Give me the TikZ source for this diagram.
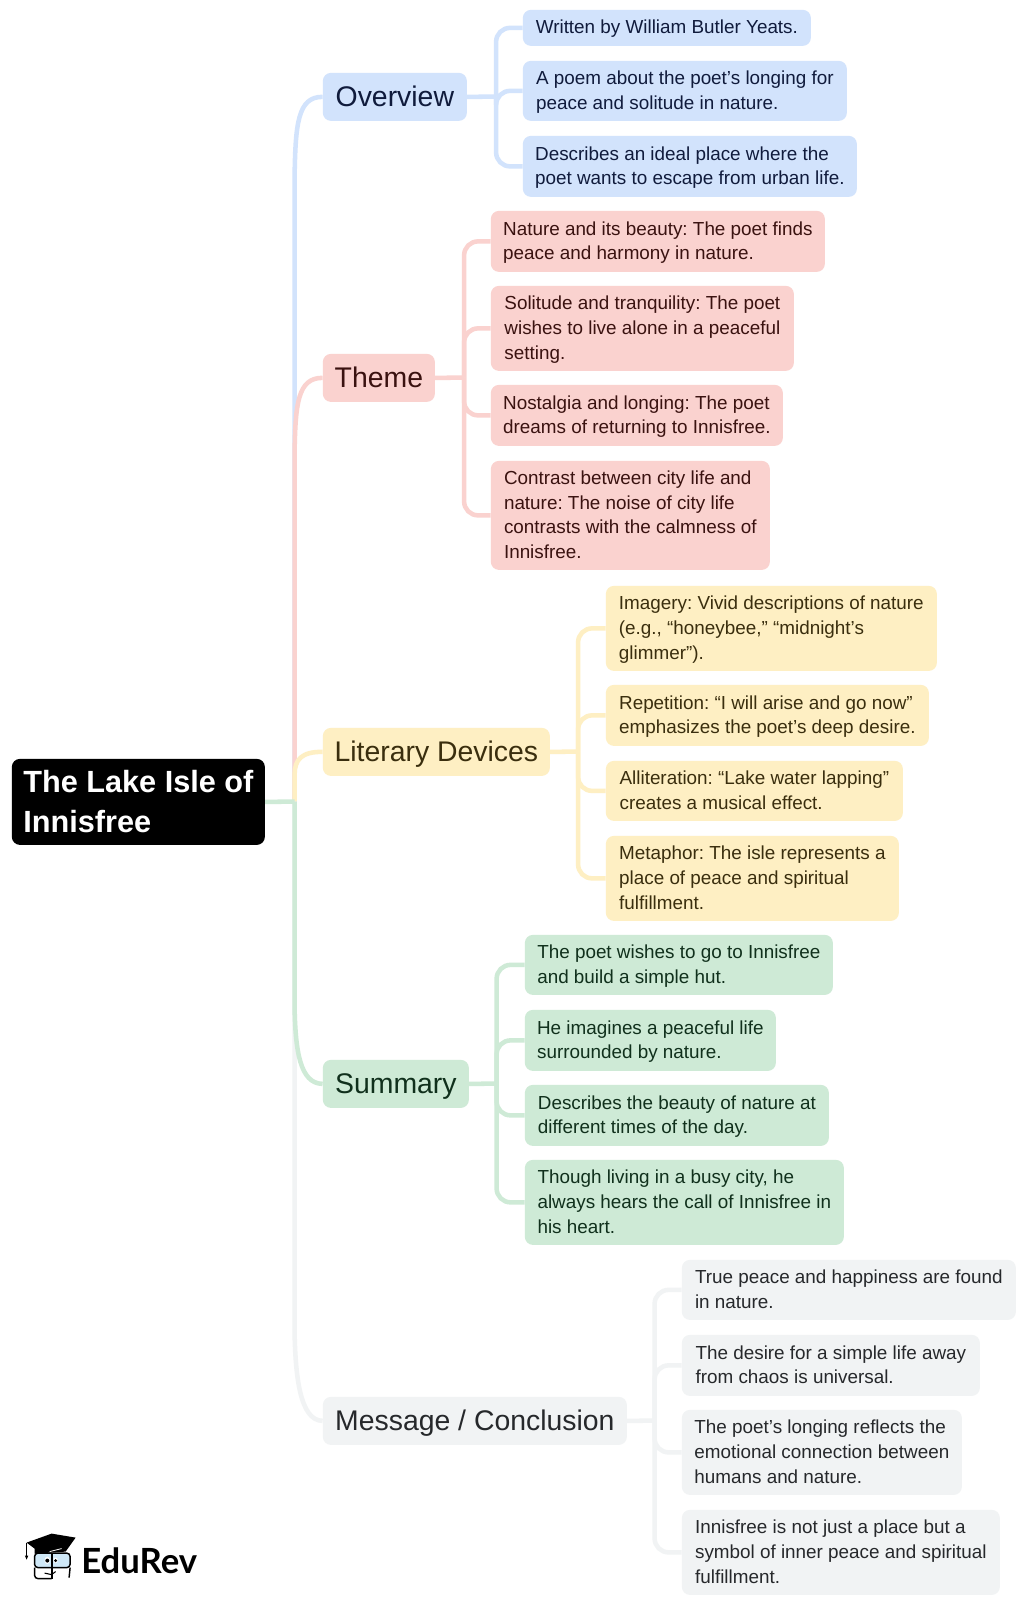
\documentclass[tikz,border=0pt]{standalone}
\usepackage{fontspec}
\setmainfont{Liberation Sans}
\newfontfamily\logofont{Lato}
\definecolor{blueF}{HTML}{D2E3FC}\definecolor{blueT}{HTML}{101B3C}
\definecolor{redF}{HTML}{FAD2CF}\definecolor{redT}{HTML}{3A1210}
\definecolor{yelF}{HTML}{FEEFC3}\definecolor{yelT}{HTML}{3A2E0E}
\definecolor{grnF}{HTML}{CEEAD6}\definecolor{grnT}{HTML}{10301C}
\definecolor{gryF}{HTML}{F1F3F4}\definecolor{gryT}{HTML}{26282B}
\definecolor{glass}{HTML}{CFE8F7}
\newcommand\sth{12pt}\newcommand\std{2.8pt}
\tikzset{
  box/.style={rounded corners=6pt,inner sep=0pt,align=left,anchor=north west},
  leaf/.style={box,font=\frenchspacing\fontsize{14.15}{18.45}\selectfont},
  mainb/.style={box,font=\frenchspacing\fontsize{21.3}{26}\selectfont,
    execute at begin node={\def\sth{20pt}\def\std{5.5pt}}},
  rootb/.style={box,fill=black,text=white,font=\frenchspacing\fontsize{23}{30}\selectfont\bfseries,
    execute at begin node={\def\sth{16.5pt}\def\std{0pt}}},
  bl/.style={fill=blueF,text=blueT},
  rd/.style={fill=redF,text=redT},
  yl/.style={fill=yelF,text=yelT},
  gn/.style={fill=grnF,text=grnT},
  gy/.style={fill=gryF,text=gryT},
  link/.style={line width=3.4pt,line cap=butt},
  kid/.style={link,rounded corners=10.5pt},
}
% name, x1, y1, x2, y2, style, text; struts on the first and last line fix the vertical placing
\newcommand\bx[7]{%
  \pgfmathsetmacro\bw{(#4-#2)*0.75}\pgfmathsetmacro\bh{(#5-#3)*0.75}%
  \node[#6,minimum width=\bw pt,minimum height=\bh pt] (#1) at (#2,#3)
    {\rule{0pt}{\sth}#7\rule[-\std]{0pt}{\std}};}
\begin{document}
\begin{tikzpicture}[x=0.75pt,y=-0.75pt]
\useasboundingbox (0,0) rectangle (1024,1604);
\fill[white] (0,0) rectangle (1024,1604);
\begin{scope}[shift={(-0.4,-0.4)}]

\bx{root}{12}{759}{265}{845}{rootb}{The Lake Isle of\\Innisfree}
\bx{ov}{323}{73}{467}{121}{mainb,bl}{Overview}
\bx{th}{323}{354}{435}{402}{mainb,rd}{Theme}
\bx{ld}{323}{728}{550}{776}{mainb,yl}{Literary Devices}
\bx{su}{323}{1060}{469}{1108}{mainb,gn}{Summary}
\bx{me}{323}{1397}{627}{1445}{mainb,gy}{Message / Conclusion}

\bx{o1}{523}{10}{811}{46}{leaf,bl}{Written by William Butler Yeats.}
\bx{o2}{523}{61}{847}{121}{leaf,bl}{A poem about the poet’s longing for\\peace and solitude in nature.}
\bx{o3}{523}{136}{857}{197}{leaf,bl}{Describes an ideal place where the\\poet wants to escape from urban life.}

\bx{t1}{491}{211}{825}{272}{leaf,rd}{Nature and its beauty: The poet finds\\peace and harmony in nature.}
\bx{t2}{491}{286}{794}{371}{leaf,rd}{Solitude and tranquility: The poet\\wishes to live alone in a peaceful\\setting.}
\bx{t3}{491}{385}{783}{446}{leaf,rd}{Nostalgia and longing: The poet\\dreams of returning to Innisfree.}
\bx{t4}{491}{461}{770}{570}{leaf,rd}{Contrast between city life and\\nature: The noise of city life\\contrasts with the calmness of\\Innisfree.}

\bx{l1}{606}{586}{937}{671}{leaf,yl}{Imagery: Vivid descriptions of nature\\(e.g., “honeybee,” “midnight’s\\glimmer”).}
\bx{l2}{606}{685}{929}{746}{leaf,yl}{Repetition: “I will arise and go now”\\emphasizes the poet’s deep desire.}
\bx{l3}{606}{761}{903}{821}{leaf,yl}{Alliteration: “Lake water lapping”\\creates a musical effect.}
\bx{l4}{606}{836}{899}{921}{leaf,yl}{Metaphor: The isle represents a\\place of peace and spiritual\\fulfillment.}

\bx{s1}{525}{935}{833}{995}{leaf,gn}{The poet wishes to go to Innisfree\\and build a simple hut.}
\bx{s2}{525}{1010}{776}{1071}{leaf,gn}{He imagines a peaceful life\\surrounded by nature.}
\bx{s3}{525}{1085}{829}{1146}{leaf,gn}{Describes the beauty of nature at\\different times of the day.}
\bx{s4}{525}{1160}{844}{1245}{leaf,gn}{Though living in a busy city, he\\always hears the call of Innisfree in\\his heart.}

\bx{m1}{682}{1260}{1016}{1320}{leaf,gy}{True peace and happiness are found\\in nature.}
\bx{m2}{682}{1335}{980}{1396}{leaf,gy}{The desire for a simple life away\\from chaos is universal.}
\bx{m3}{682}{1410}{962}{1495}{leaf,gy}{The poet’s longing reflects the\\emotional connection between\\humans and nature.}
\bx{m4}{682}{1510}{1000}{1595}{leaf,gy}{Innisfree is not just a place but a\\symbol of inner peace and spiritual\\fulfillment.}

% trunk
\coordinate (tr) at (295,802);
\draw[link,draw=blueF] (tr) -- (295,175) .. controls (296,125) and (298,97) .. (ov.west);
\draw[link,draw=redF] (tr) -- (295,450) .. controls (296,405) and (298,378) .. (th.west);
\draw[link,draw=yelF] (tr) -- (295,775) .. controls (295,760) and (302,752) .. (ld.west);
\draw[link,draw=gryF] (tr) -- (295,1335) .. controls (296,1375) and (300,1421) .. (me.west);
\draw[link,draw=grnF] (tr) -- (295,1010) .. controls (296,1050) and (300,1084) .. (su.west);
\draw[link,draw=grnF] (root.east) -- (tr);

% buses
\coordinate (ovb) at (496.5,97);
\draw[link,draw=blueF] (ov.east) -- (ovb);
\foreach \k in {o1,o2,o3} \draw[kid,draw=blueF] (ovb) |- (\k.west);
\coordinate (thb) at (464.5,378);
\draw[link,draw=redF] (th.east) -- (thb);
\foreach \k in {t1,t2,t3,t4} \draw[kid,draw=redF] (thb) |- (\k.west);
\coordinate (ldb) at (578.5,752);
\draw[link,draw=yelF] (ld.east) -- (ldb);
\foreach \k in {l1,l2,l3,l4} \draw[kid,draw=yelF] (ldb) |- (\k.west);
\coordinate (sub) at (497,1084);
\draw[link,draw=grnF] (su.east) -- (sub);
\foreach \k in {s1,s2,s3,s4} \draw[kid,draw=grnF] (sub) |- (\k.west);
\coordinate (meb) at (655,1421);
\draw[link,draw=gryF] (me.east) -- (meb);
\foreach \k in {m1,m2,m3,m4} \draw[kid,draw=gryF] (meb) |- (\k.west);

% logo
\node[anchor=west,inner sep=0pt,font=\logofont\fontsize{26}{30}\selectfont\bfseries] (edurev) at (81.5,1561.5) {EduRev};
\fill[glass,rounded corners=2pt] (35,1553.5) rectangle (70.5,1568);
\fill (27,1543) -- (52,1534) -- (76,1538) -- (66,1552) -- (35,1554) -- (35,1549) -- cycle;
\draw[white,line width=0.6pt] (50,1552) -- (62,1549);
\draw[line width=0.8pt] (27,1543) -- (27,1556);
\fill (25.3,1556) -- (28.7,1556) -- (27,1560) -- cycle;
\draw[line width=1.1pt,rounded corners=2.5pt] (35,1553.5) rectangle (70.5,1568);
\draw[line width=1.1pt,rounded corners=2.5pt] (35,1568) -- (35,1579) -- (52,1579);
\draw[line width=1.1pt] (52.3,1553.5) -- (52.3,1579);
\draw[line width=1.1pt] (70.5,1568) -- (69.5,1578);
\draw[line width=0.8pt] (45,1573.5) -- (52,1575) -- (56,1572);
\fill[white] (47.7,1560.7) ellipse (2.8 and 3.6);
\fill[white] (56,1560.7) ellipse (2.2 and 2.8);
\fill (47.7,1561) circle (2); \fill (56,1561) circle (1.7);
\end{scope}
\end{tikzpicture}
\end{document}
